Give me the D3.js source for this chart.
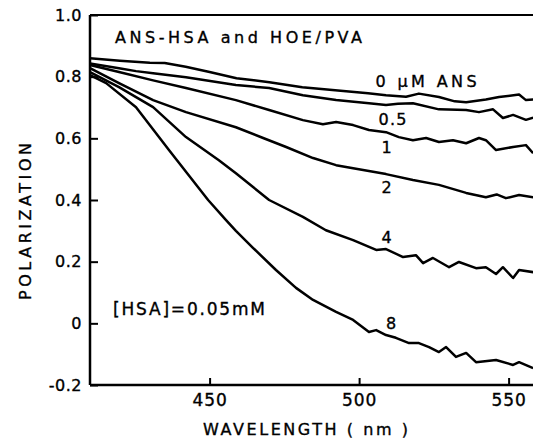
<!DOCTYPE html>
<html>
<head>
<meta charset="utf-8">
<script src="https://cdn.jsdelivr.net/npm/d3@7"></script>
<style>
  html, body { margin: 0; padding: 0; background: #fff; }
  text { font-family: 'DejaVu Sans', sans-serif; fill: #000; stroke: #000; stroke-width: 0.35px; }
</style>
</head>
<body>
<div id="chart"></div>
<script>
// polarization vs wavelength, one array per ANS concentration
const ans0 = [[410,0.86],[420,0.852],[430,0.845],[435,0.844],[442,0.832],[450,0.815],[459,0.795],[470,0.782],[481,0.766],[492,0.756],[503,0.746],[509,0.74],[515.7,0.735],[520,0.745],[526.7,0.734],[532,0.72],[535.8,0.717],[542.4,0.726],[546.8,0.734],[553.5,0.742],[555.8,0.724],[558.2,0.726]]
const ans05 = [[410,0.843],[419.7,0.827],[425.4,0.818],[431.1,0.811],[442.1,0.798],[458.8,0.773],[469.9,0.763],[481.2,0.74],[492.3,0.724],[503.3,0.714],[509,0.708],[513,0.712],[518,0.714],[526.7,0.694],[535.8,0.692],[540.1,0.685],[544.8,0.694],[548.1,0.666],[551.5,0.676],[555.8,0.66],[558.2,0.667]]
const ans1 = [[410,0.838],[419.7,0.815],[431.1,0.788],[442.1,0.763],[458.8,0.724],[469.9,0.692],[481.2,0.659],[487.9,0.646],[492.3,0.653],[498,0.643],[503.3,0.627],[509,0.62],[513.3,0.604],[518,0.594],[522.4,0.601],[526.7,0.588],[531.4,0.594],[535.8,0.584],[540.1,0.601],[542.4,0.594],[545.8,0.562],[551.5,0.572],[555.8,0.578],[558.2,0.552]]
const ans2 = [[410,0.828],[419.7,0.779],[431.1,0.724],[442.1,0.685],[458.8,0.636],[467.9,0.601],[475.6,0.572],[484.6,0.536],[492.3,0.513],[498,0.503],[509,0.484],[518,0.465],[526.7,0.449],[535.8,0.423],[542.4,0.409],[546,0.418],[549.1,0.406],[553.5,0.416],[558.2,0.409]]
const ans4 = [[410,0.815],[419.7,0.766],[431.1,0.701],[442.1,0.604],[453.1,0.529],[458.8,0.487],[469.9,0.4],[481.2,0.345],[488.9,0.302],[498,0.27],[505.7,0.238],[509,0.241],[514.7,0.215],[519,0.221],[521.4,0.195],[524.7,0.212],[530.1,0.182],[533.4,0.199],[539.1,0.179],[542.4,0.182],[545.8,0.16],[548.1,0.182],[551.5,0.147],[553.5,0.173],[558.2,0.166]]
const ans8 = [[410,0.805],[415.4,0.779],[425.4,0.701],[436.4,0.562],[449.5,0.4],[455.5,0.335],[458.8,0.3],[464.5,0.245],[472.2,0.173],[478.9,0.115],[484.6,0.076],[492.3,0.037],[498,0.011],[503.3,-0.028],[505.7,-0.022],[509,-0.038],[512.3,-0.047],[516.7,-0.064],[520,-0.064],[523.4,-0.077],[526.7,-0.093],[529.1,-0.077],[532.4,-0.109],[535.8,-0.096],[539.1,-0.126],[545.8,-0.119],[551.5,-0.135],[553.5,-0.126],[558.2,-0.145]]

const seriesData = [ans0, ans05, ans1, ans2, ans4, ans8]
const curveLabels = [
  { text: '0 \u03BCM ANS', at: [505.5, 0.765], len: 101 },
  { text: '0.5', at: [506.5, 0.642], len: 28 },
  { text: '1', at: [507.5, 0.552] },
  { text: '2', at: [507.5, 0.422] },
  { text: '4', at: [507.5, 0.26] },
  { text: '8', at: [509, -0.018] }
]
const xTicks = [450, 500, 550]
const yTicks = [-0.2, 0, 0.2, 0.4, 0.6, 0.8, 1.0]

const width = 533
const height = 438

const svg = d3.select('#chart').append('svg').attr('width', width).attr('height', height)

const x = d3.scaleLinear().domain([410, 560]).range([90, 538.5])
const y = d3.scaleLinear().domain([-0.2, 1.0]).range([385, 15])

// frame: top edge
svg.append('line')
  .attr('x1', x(410)).attr('x2', width + 5)
  .attr('y1', y(1.0)).attr('y2', y(1.0))
  .attr('stroke', '#000').attr('stroke-width', 2)

const yAxis = svg.append('g')
  .attr('transform', `translate(${x(410)},0)`)
  .call(d3.axisLeft(y).tickValues(yTicks).tickSize(-8).tickPadding(8)
    .tickFormat((d) => (d === 0 ? '0' : d3.format('.1f')(d).replace('\u2212', '-'))))
yAxis.select('.domain').attr('stroke-width', 2.5).attr('d', `M0,${y(1.0)}V${y(-0.2)}`)
yAxis.selectAll('.tick line').attr('stroke-width', 2)
yAxis.selectAll('.tick text').style('font-size', '16px').attr('letter-spacing', 0.5).attr('fill', '#000')

const xAxis = svg.append('g')
  .attr('transform', `translate(0,${y(-0.2)})`)
  .call(d3.axisBottom(x).tickValues(xTicks).tickSize(-7).tickPadding(9).tickFormat(d3.format('d')))
xAxis.select('.domain').attr('stroke-width', 2.5).attr('d', `M${x(410)},0H${width + 5}`)
xAxis.selectAll('.tick line').attr('stroke-width', 2)
xAxis.selectAll('.tick text').style('font-size', '17px').attr('letter-spacing', 1).attr('fill', '#000')

const line = d3.line().x((d) => x(d[0])).y((d) => y(d[1]))

svg.append('g')
  .selectAll('path')
  .data(seriesData)
  .enter()
  .append('path')
  .attr('d', line)
  .attr('fill', 'none')
  .attr('stroke', '#000')
  .attr('stroke-width', 2.5)
  .attr('stroke-linejoin', 'round')

svg.append('g')
  .selectAll('text')
  .data(curveLabels)
  .enter()
  .append('text')
  .attr('x', (d) => x(d.at[0]))
  .attr('y', (d) => y(d.at[1]))
  .attr('textLength', (d) => d.len || null)
  .attr('lengthAdjust', 'spacing')
  .style('font-size', '16px')
  .text((d) => d.text)

svg.append('text')
  .attr('x', 115).attr('y', 43)
  .attr('textLength', 247).attr('lengthAdjust', 'spacing')
  .style('font-size', '16px')
  .text('ANS-HSA and HOE/PVA')

svg.append('text')
  .attr('x', 113).attr('y', 315)
  .attr('textLength', 152).attr('lengthAdjust', 'spacing')
  .style('font-size', '17px')
  .text('[HSA]=0.05mM')

svg.append('text')
  .attr('x', 203).attr('y', 435)
  .attr('textLength', 205).attr('lengthAdjust', 'spacing')
  .style('font-size', '16px')
  .text('WAVELENGTH ( nm )')

svg.append('text')
  .attr('transform', 'translate(31,300) rotate(-90)')
  .attr('textLength', 157).attr('lengthAdjust', 'spacing')
  .style('font-size', '16px')
  .text('POLARIZATION')
</script>
</body>
</html>
